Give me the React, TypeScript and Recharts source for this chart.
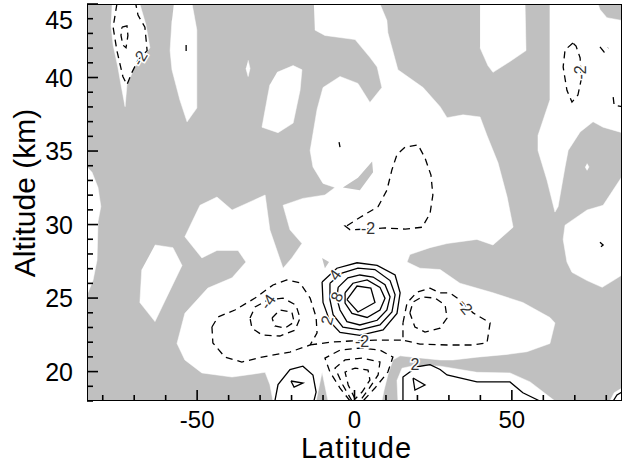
import { ScatterChart, Scatter, XAxis, YAxis, Label } from 'recharts';

type Pt = [number, number];

const FONT = '"Liberation Sans", Arial, Helvetica, sans-serif';
const SHADE = '#c0c0c0';

const LAT_TICKS = [-80, -70, -60, -50, -40, -30, -20, -10, 0, 10, 20, 30, 40, 50, 60, 70, 80];
const ALT_TICKS = [18, 19, 20, 21, 22, 23, 24, 25, 26, 27, 28, 29, 30, 31, 32, 33, 34, 35, 36, 37, 38, 39, 40, 41, 42, 43, 44, 45];

// whole plotting box (lat, alt)
const PLOT_BOX: Pt[] = [[-85, 18], [85, 18], [85, 45], [-85, 45], [-85, 18]];

// unshaded (white) regions, drawn over the shaded box
const CLEAR_REGIONS: Pt[][] = [
  [[-77.1, 45], [-68.2, 45], [-66.3, 43.6], [-65, 42.02], [-69.8, 40.72], [-72.3, 39.51], [-72.9, 38.02], [-74.2, 39.51], [-75.2, 40.72], [-76.7, 42.21], [-77.4, 43.6]],
  [[-57.4, 45], [-51.6, 45], [-50.1, 43.23], [-50.1, 37.92], [-53.2, 36.99], [-55.5, 38.48], [-58.0, 40.53], [-58.6, 41.83], [-58.0, 43.88]],
  [[-33.8, 41.18], [-33.2, 40.62], [-33.8, 40.07], [-34.5, 40.62]],
  [[-24.6, 40.35], [-19.5, 40.81], [-16.7, 40.53], [-17.3, 39.13], [-19.5, 36.9], [-24.3, 36.25], [-29.4, 36.62], [-27.8, 38.48], [-26.9, 39.51]],
  [[39.9, 45], [54.2, 45], [54.5, 41.83], [49.4, 41.09], [44.0, 40.35], [42.4, 40.81], [39.9, 42.02]],
  [[-85, 33.92], [-83.4, 33.55], [-81.5, 32.52], [-80.6, 31.22], [-81.5, 30.2], [-81.8, 27.59], [-83.1, 26.19], [-84.7, 25.36], [-85, 25.36]],
  [[-63.4, 28.61], [-57.7, 28.43], [-54.8, 27.22], [-58.6, 25.54], [-63.4, 23.4], [-68.2, 24.7], [-67.6, 26.94]],
  [
    [-12.9, 45], [8.1, 45], [10.3, 43.88], [10.6, 43.05], [13.8, 40.53], [21.8, 39.32], [27.2, 38.02], [29.4, 37.27],
    [34.5, 37.46], [39.9, 37.32], [42.1, 36.06], [45.6, 34.2], [48.5, 31.87], [50.4, 29.82], [44.0, 28.61], [38.9, 28.99],
    [29.4, 28.71], [24.0, 28.43], [17.6, 27.96], [16.7, 27.45], [20.8, 27.03], [27.2, 26.94], [33.5, 26.01], [44.0, 25.36],
    [53.5, 24.7], [62.1, 23.68], [63.7, 23.31], [62.1, 21.91], [54.8, 21.35], [48.5, 21.17], [38.9, 20.98], [31.3, 20.79],
    [27.2, 20.79], [20.8, 20.93], [14.5, 21.07], [12.2, 20.79], [10.6, 19.77], [9.4, 18.74], [8.7, 18], [-8.4, 18],
    [-10.3, 19.95], [-12.2, 18], [-25.9, 18], [-26.9, 19.12], [-28.4, 19.95], [-38.9, 19.63], [-48.5, 19.91], [-53.9, 20.79],
    [-56.4, 21.91], [-53.9, 23.96], [-46.6, 25.68], [-38.9, 26.38], [-34.5, 27.45], [-37.0, 28.24], [-43.7, 28.24], [-48.5, 27.73],
    [-53.9, 29.17], [-49.1, 31.31], [-43.7, 31.87], [-38.9, 30.99], [-28.4, 32.01], [-26.9, 29.64], [-22.7, 27.03], [-19.9, 27.73],
    [-16.7, 28.71], [-20.5, 29.64], [-22.7, 31.31], [-16.4, 31.78], [-9.4, 32.01], [-6.2, 32.52], [-10.0, 32.8], [-13.2, 33.92],
    [-14.1, 35.04], [-13.5, 35.78], [-11.9, 37.83], [-10.0, 39.32], [-4.6, 40.07], [1.1, 39.6], [4.9, 38.3], [8.7, 39.32],
    [7.2, 40.72], [4.9, 41.37], [0.2, 42.58], [-9.4, 42.86], [-12.6, 43.23],
  ],
  [[62.1, 45], [62.1, 38.48], [60.5, 37.46], [58.3, 36.06], [58.3, 35.04], [61.2, 32.99], [63.7, 30.85], [64.7, 31.22], [66.9, 33.92], [67.9, 35.04], [71.7, 36.3], [75.8, 36.99], [79.0, 36.62], [85, 36.25], [85, 43.88], [80.2, 44.07], [78.0, 44.63], [77.4, 45]],
  [[85, 33.27], [79.0, 31.31], [73.9, 30.99], [66.9, 29.96], [66.3, 28.99], [67.5, 27.45], [69.1, 26.75], [73.9, 26.19], [78.7, 25.73], [82.2, 26.19], [85, 26.57]],
  [[73.9, 34.15], [74.5, 33.92], [73.9, 33.69], [73.3, 33.92]],
  [[13.8, 18], [13.5, 19.4], [15.1, 20.23], [19.2, 20.42], [27.2, 20.37], [38.9, 19.95], [49.4, 19.91], [55.8, 19.3], [63.7, 18]],
  [[81.2, 18], [82.5, 18.56], [85, 18.88], [85, 18]],
];

// small shaded pockets lying inside the clear regions
const SHADED_POCKETS: Pt[][] = [
  [[-3.7, 32.52], [1.1, 33.18], [5.6, 34.29], [5.9, 33.55], [1.7, 32.34]],
  [[-10.3, 27.73], [-8.1, 27.45], [-9.4, 27.03]],
];

// negative contours (dashed)
const NEG_CONTOURS: Pt[][] = [
  [[-75.5, 45], [-76.7, 43.42], [-75.5, 41.83], [-73.6, 40.07], [-72.3, 39.51], [-70.7, 40.35], [-68.8, 41.18], [-65.9, 41.83], [-66.6, 43.42], [-68.8, 44.25], [-69.5, 45]],
  [[-73.9, 43.42], [-72.3, 43.51], [-72.0, 42.86], [-72.6, 42.02], [-73.6, 42.21], [-74.2, 42.86], [-73.9, 43.42]],
  [[69.4, 42.35], [66.9, 41.87], [66.3, 40.72], [67.5, 39.13], [69.1, 38.33], [71.0, 38.81], [72.0, 39.83], [71.7, 41.33], [70.4, 42.14], [69.4, 42.35]],
  [[-2.4, 29.92], [1.7, 30.48], [7.5, 31.22], [10.3, 32.34], [11.9, 33.73], [13.5, 34.76], [16.1, 35.27], [20.2, 35.41], [22.4, 34.53], [24.3, 33.36], [24.9, 32.01], [24.0, 30.75], [21.5, 29.82], [16.1, 29.69], [9.7, 29.77], [3.3, 29.69], [-1.4, 29.64], [-3.0, 29.9], [-2.4, 29.92]],
  [[-45.3, 23.03], [-43.4, 23.71], [-38.0, 24.19], [-31.6, 25.0], [-25.9, 25.89], [-21.5, 26.23], [-17.3, 26.03], [-14.1, 25.0], [-12.2, 23.71], [-11.9, 22.63], [-14.1, 21.81], [-20.5, 21.33], [-29.4, 20.99], [-35.8, 20.65], [-41.2, 20.99], [-45.0, 21.95], [-45.3, 23.03]],
  [[-33.2, 23.64], [-31.6, 24.4], [-27.5, 24.87], [-22.7, 25.0], [-18.6, 24.52], [-17.3, 23.64], [-18.9, 22.82], [-23.7, 22.42], [-29.4, 22.49], [-32.6, 22.96], [-33.2, 23.64]],
  [[-26.2, 23.64], [-23.7, 24.19], [-19.9, 24.05], [-19.2, 23.37], [-22.1, 22.96], [-25.3, 23.1], [-26.2, 23.64]],
  [[15.4, 23.31], [16.7, 24.67], [19.9, 25.41], [24.0, 25.68], [27.2, 25.35], [30.3, 25.35], [33.5, 24.87], [37.7, 23.99], [43.1, 23.31], [42.1, 21.95], [37.7, 21.81], [29.4, 21.81], [20.8, 21.87], [15.4, 22.14], [15.4, 23.31]],
  [[17.6, 23.99], [18.6, 24.73], [21.5, 25.08], [25.6, 25.0], [28.8, 24.52], [29.4, 23.64], [27.2, 22.96], [22.4, 22.69], [19.2, 23.03], [17.6, 23.99]],
  [[-14.1, 21.81], [-7.8, 22.0], [-1.4, 22.08], [6.5, 22.14], [15.4, 22.14]],
  [[-1.4, 18], [-4.6, 18.88], [-7.8, 19.97], [-9.4, 20.92], [-4.6, 21.46], [1.7, 21.6], [8.1, 21.46], [12.2, 20.99], [10.6, 19.97], [6.5, 18.88], [2.7, 18]],
  [[-0.8, 18], [-3.7, 19.09], [-6.2, 20.24], [-3.0, 20.79], [2.4, 20.92], [8.1, 20.65], [7.5, 19.77], [4.3, 18.74], [1.7, 18]],
  [[0.2, 18.14], [-2.0, 19.09], [-3.0, 19.97], [0.2, 20.24], [4.3, 20.1], [4.9, 19.42], [2.4, 18.61], [0.2, 18.14]],
  [[-53.5, 42.21], [-53.5, 41.81]],
  [[-4.9, 35.6], [-4.6, 35.27]],
  [[78.0, 42.08], [79.3, 41.74], [80.6, 42.02]],
  [[82.2, 38.67], [82.5, 38.11], [85, 38.02]],
  [[78.0, 28.8], [79.0, 28.61], [78.0, 28.43]],
];

// positive contours (solid)
const POS_CONTOURS: Pt[][] = [
  [[-10.3, 26.1], [-5.6, 27.03], [0.8, 27.4], [7.2, 27.22], [12.9, 26.57], [14.5, 25.36], [13.5, 23.96], [9.1, 22.84], [1.7, 22.47], [-4.6, 22.66], [-7.8, 23.4], [-10.0, 24.7], [-10.3, 26.1]],
  [[-7.8, 26.01], [-4.0, 26.7], [1.1, 27.03], [6.5, 26.94], [11.3, 26.19], [12.9, 25.22], [11.9, 24.05], [8.1, 23.17], [1.7, 22.84], [-3.7, 23.03], [-6.8, 23.87], [-7.8, 24.89], [-7.8, 26.01]],
  [[-5.2, 25.73], [-2.1, 26.38], [1.7, 26.57], [5.9, 26.43], [9.7, 25.91], [11.3, 25.08], [10.3, 24.19], [7.2, 23.49], [1.7, 23.17], [-2.4, 23.4], [-4.6, 24.19], [-5.6, 24.98], [-5.2, 25.73]],
  [[-3.0, 25.36], [-0.5, 26.01], [4.0, 26.24], [8.1, 25.73], [9.7, 24.98], [8.1, 24.19], [4.0, 23.68], [-0.8, 23.96], [-3.0, 24.66], [-3.0, 25.36]],
  [[-2.4, 24.89], [0.8, 25.82], [5.2, 25.68], [6.5, 24.7], [1.1, 24.05], [-2.4, 24.89]],
  [[-25.3, 18], [-24.3, 19.12], [-20.5, 20.14], [-16.4, 20.37], [-13.2, 19.77], [-12.2, 18.61], [-12.9, 18]],
  [[-20.2, 19.36], [-16.4, 19.22], [-19.2, 18.95], [-20.2, 19.36]],
  [[15.4, 18], [15.4, 19.63], [19.9, 20.33], [24.0, 20.47], [27.2, 20.14], [29.4, 19.77], [38.9, 19.3], [49.4, 19.3], [53.5, 18.56], [58.9, 18]],
  [[18.6, 19.56], [22.4, 19.09], [19.2, 18.74], [18.6, 19.56]],
  [[82.2, 18], [83.4, 18.41], [85, 18.61]],
];

const CONTOUR_LABELS = [
  { lat: -68.2, alt: 41.32, text: '-2', angle: -60 },
  { lat: 71.8, alt: 40.35, text: '-2', angle: -90 },
  { lat: 4.3, alt: 29.75, text: '-2', angle: 0 },
  { lat: -27.5, alt: 24.75, text: '-4', angle: -55 },
  { lat: -6.2, alt: 26.57, text: '4', angle: -55 },
  { lat: -5.6, alt: 25.08, text: '8', angle: -65 },
  { lat: -8.7, alt: 23.49, text: '2', angle: -75 },
  { lat: 2.4, alt: 22.05, text: '-2', angle: 0 },
  { lat: 35.1, alt: 24.4, text: '-2', angle: 50 },
  { lat: 19.2, alt: 20.51, text: '2', angle: 0 },
];

const rows = (pts: Pt[]) => pts.map(([lat, alt]) => ({ lat, alt }));
const NoDot = () => <g />;

const ContourText = (props: any) => {
  const { cx, cy, payload } = props;
  return (
    <text
      x={cx}
      y={cy}
      transform={`rotate(${payload.angle} ${cx} ${cy})`}
      textAnchor="middle"
      dominantBaseline="central"
      fontSize={16}
      fontFamily={FONT}
      fill="#333"
      stroke="#fff"
      strokeWidth={3}
      paintOrder="stroke"
    >
      {payload.text}
    </text>
  );
};

const isMajorLat = (v: number) => v % 50 === 0;
const isMajorAlt = (v: number) => v % 5 === 0;

const BottomTick = (props: any) => {
  const { x, y, payload } = props;
  const major = isMajorLat(payload.value);
  return (
    <g>
      <line x1={x} y1={y} x2={x} y2={y - (major ? 11 : 6)} stroke="#000" strokeWidth={1.6} />
      {major && (
        <text x={x} y={y + 27} textAnchor="middle" fontSize={24} fontFamily={FONT} fill="#000">
          {payload.value}
        </text>
      )}
    </g>
  );
};

const TopTick = (props: any) => {
  const { x, y, payload } = props;
  const major = isMajorLat(payload.value);
  return <line x1={x} y1={y} x2={x} y2={y + (major ? 11 : 6)} stroke="#000" strokeWidth={1.6} />;
};

const LeftTick = (props: any) => {
  const { x, y, payload } = props;
  const major = isMajorAlt(payload.value);
  // keep the top label inside the page
  const textY = Math.max(y + 9, 29);
  return (
    <g>
      <line x1={x} y1={y} x2={x + (major ? 11 : 6)} y2={y} stroke="#000" strokeWidth={1.6} />
      {major && (
        <text x={x - 14} y={textY} textAnchor="end" fontSize={25} fontFamily={FONT} fill="#000">
          {payload.value}
        </text>
      )}
    </g>
  );
};

const RightTick = (props: any) => {
  const { x, y, payload } = props;
  const major = isMajorAlt(payload.value);
  return <line x1={x} y1={y} x2={x - (major ? 11 : 6)} y2={y} stroke="#000" strokeWidth={1.6} />;
};

const LatTitle = (props: any) => {
  const { x, y, width } = props.viewBox;
  return (
    <text x={x + width / 2 + 2} y={y + 57} textAnchor="middle" fontSize={29} letterSpacing={1} fontFamily={FONT} fill="#000">
      Latitude
    </text>
  );
};

const AltTitle = (props: any) => {
  const { x, y } = props.viewBox;
  const cx = x + 35;
  const cy = y + 189;
  return (
    <text x={cx} y={cy} transform={`rotate(-90 ${cx} ${cy})`} textAnchor="middle" fontSize={30} fontFamily={FONT} fill="#000">
      Altitude (km)
    </text>
  );
};

export default function App() {
  return (
    <div style={{ position: 'absolute', left: 0, top: 0, background: '#fff' }}>
      <ScatterChart width={625} height={464} margin={{ top: 4, right: 3, bottom: 0, left: 0 }}>
        <XAxis
          dataKey="lat"
          type="number"
          domain={[-85, 85]}
          allowDataOverflow
          ticks={LAT_TICKS}
          interval={0}
          tickSize={0}
          tickMargin={0}
          axisLine={false}
          tick={BottomTick}
          height={63}
          label={<Label content={LatTitle} />}
        />
        <XAxis
          xAxisId="top"
          orientation="top"
          dataKey="lat"
          type="number"
          domain={[-85, 85]}
          allowDataOverflow
          ticks={LAT_TICKS}
          interval={0}
          tickSize={0}
          tickMargin={0}
          axisLine={false}
          tick={TopTick}
          height={0}
        />
        <YAxis
          dataKey="alt"
          type="number"
          domain={[18, 45]}
          allowDataOverflow
          ticks={ALT_TICKS}
          interval={0}
          tickSize={0}
          tickMargin={0}
          axisLine={false}
          tick={LeftTick}
          width={87}
          label={<Label content={AltTitle} />}
        />
        <YAxis
          yAxisId="right"
          orientation="right"
          dataKey="alt"
          type="number"
          domain={[18, 45]}
          allowDataOverflow
          ticks={ALT_TICKS}
          interval={0}
          tickSize={0}
          tickMargin={0}
          axisLine={false}
          tick={RightTick}
          width={0}
        />

        <Scatter data={rows(PLOT_BOX)} shape={NoDot} line={{ fill: SHADE, stroke: 'none' }} isAnimationActive={false} />
        {CLEAR_REGIONS.map((pts, i) => (
          <Scatter key={`clear-${i}`} data={rows(pts)} shape={NoDot} line={{ fill: '#fff', stroke: '#fff', strokeWidth: 0.5 }} isAnimationActive={false} />
        ))}
        {SHADED_POCKETS.map((pts, i) => (
          <Scatter key={`pocket-${i}`} data={rows(pts)} shape={NoDot} line={{ fill: SHADE, stroke: 'none' }} isAnimationActive={false} />
        ))}
        {NEG_CONTOURS.map((pts, i) => (
          <Scatter key={`neg-${i}`} data={rows(pts)} shape={NoDot} line={{ fill: 'none', stroke: '#000', strokeWidth: 1.3, strokeDasharray: '7 5' }} isAnimationActive={false} />
        ))}
        {POS_CONTOURS.map((pts, i) => (
          <Scatter key={`pos-${i}`} data={rows(pts)} shape={NoDot} line={{ fill: 'none', stroke: '#000', strokeWidth: 1.3 }} isAnimationActive={false} />
        ))}
        <Scatter data={CONTOUR_LABELS} shape={ContourText} isAnimationActive={false} />
        <Scatter
          xAxisId="top"
          yAxisId="right"
          data={rows(PLOT_BOX)}
          shape={NoDot}
          line={{ fill: 'none', stroke: '#000', strokeWidth: 2 }}
          isAnimationActive={false}
        />
      </ScatterChart>
    </div>
  );
}
